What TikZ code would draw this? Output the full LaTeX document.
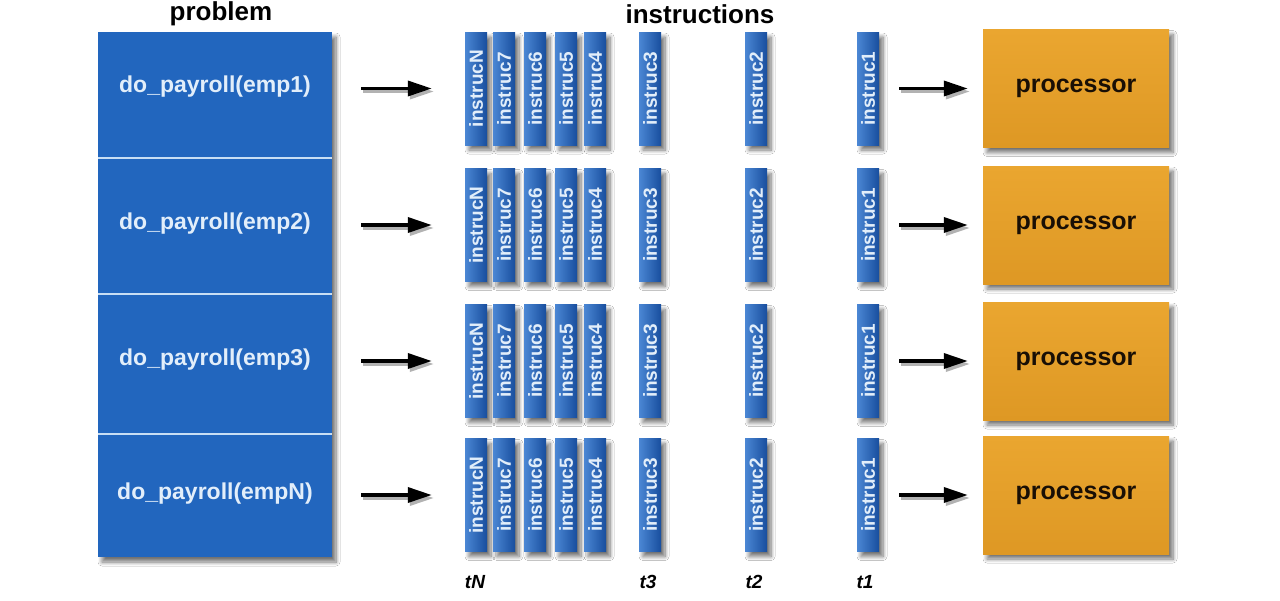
\documentclass[tikz,border=0pt]{standalone}
\usepackage{fontspec}
\setmainfont{Liberation Sans}
\usepackage{graphicx}
\usetikzlibrary{shadows,shadows.blur,calc,arrows.meta}
\definecolor{pblue}{RGB}{34,102,190}
\definecolor{bmid}{RGB}{38,105,195}
\definecolor{blight}{RGB}{75,135,212}
\definecolor{bdark}{RGB}{24,78,158}
\definecolor{ptop}{RGB}{234,166,48}
\definecolor{pbot}{RGB}{222,152,36}
\definecolor{ltext}{RGB}{226,238,250}
\definecolor{divcol}{RGB}{200,222,244}
\definecolor{dtext}{RGB}{25,15,5}
\tikzset{
  shad/.style={blur shadow={shadow xshift=4pt,shadow yshift=-5pt,shadow blur steps=8,shadow blur radius=4pt,shadow opacity=55}},
  title/.style={font=\bfseries\fontsize{26}{26}\selectfont, text=black, inner sep=0pt},
  probbox/.style={shad, rectangle, fill=pblue, minimum width=234pt, minimum height=525pt, inner sep=0pt},
  divider/.style={draw=divcol, line width=1.5pt},
  rowtext/.style={font=\bfseries\fontsize{23}{23}\selectfont, text=ltext, inner sep=0pt},
  bar/.style={shad, rectangle, left color=blight, middle color=bmid, right color=bdark,
    minimum width=22pt, minimum height=113pt, inner sep=0pt, text=ltext,
    font=\bfseries\fontsize{19}{19}\selectfont},
  proc/.style={shad, rectangle, top color=ptop, bottom color=pbot, minimum width=186pt,
    minimum height=118pt, inner sep=0pt, text=dtext, font=\bfseries\fontsize{25}{25}\selectfont},
  tlab/.style={font=\bfseries\itshape\fontsize{19}{19}\selectfont, text=black, inner sep=0pt},
  arr/.style={draw=black, line width=3.5pt, -{Triangle[length=24pt,width=15pt]}},
  arrshad/.style={draw=black!30, line width=3.5pt, -{Triangle[length=24pt,width=15pt]}}
}
\begin{document}
\begin{tikzpicture}[x=1pt,y=-1pt]
\useasboundingbox[fill=white] (0,0) rectangle (1280,600);
\node[title] (tprob) at (221,14) {problem};
\node[title] (tinstr) at (700,14) {instructions};
\node[probbox] (prob) at (215,294.5) {};
\foreach \yy in {158,294,434}
  \draw[divider] (prob.west |- 0,\yy) -- (prob.east |- 0,\yy);
\foreach \i/\y/\ty/\lab in {1/88.5/87/emp1, 2/225/224/emp2, 3/361/360/emp3, 4/495/494/empN} {
  \node[rowtext] (r\i) at (215,\ty) {do\_payroll(\lab)};
  \foreach \n/\x in {N/476,7/504,6/535,5/566,4/595,3/650,2/756,1/868}
    \node[bar] (b\n\i) at (\x,\y) {\rotatebox{90}{instruc\n}};
  \node[proc] (p\i) at (1076,\y) {processor};
  \draw[arrshad] ($(prob.east |- bN\i.west)+(31,3)$) -- ($(bN\i.west)+(-31,3)$);
  \draw[arr] ($(prob.east |- bN\i.west)+(29,0)$) -- ($(bN\i.west)+(-33,0)$);
  \draw[arrshad] ($(b1\i.east)+(22,3)$) -- ($(p\i.west)+(-13,3)$);
  \draw[arr] ($(b1\i.east)+(20,0)$) -- ($(p\i.west)+(-15,0)$);
}
\node[tlab] (tN) at (475,582) {tN};
\node[tlab] (t3) at (648,582) {t3};
\node[tlab] (t2) at (754,582) {t2};
\node[tlab] (t1) at (865,582) {t1};
\end{tikzpicture}
\end{document}
